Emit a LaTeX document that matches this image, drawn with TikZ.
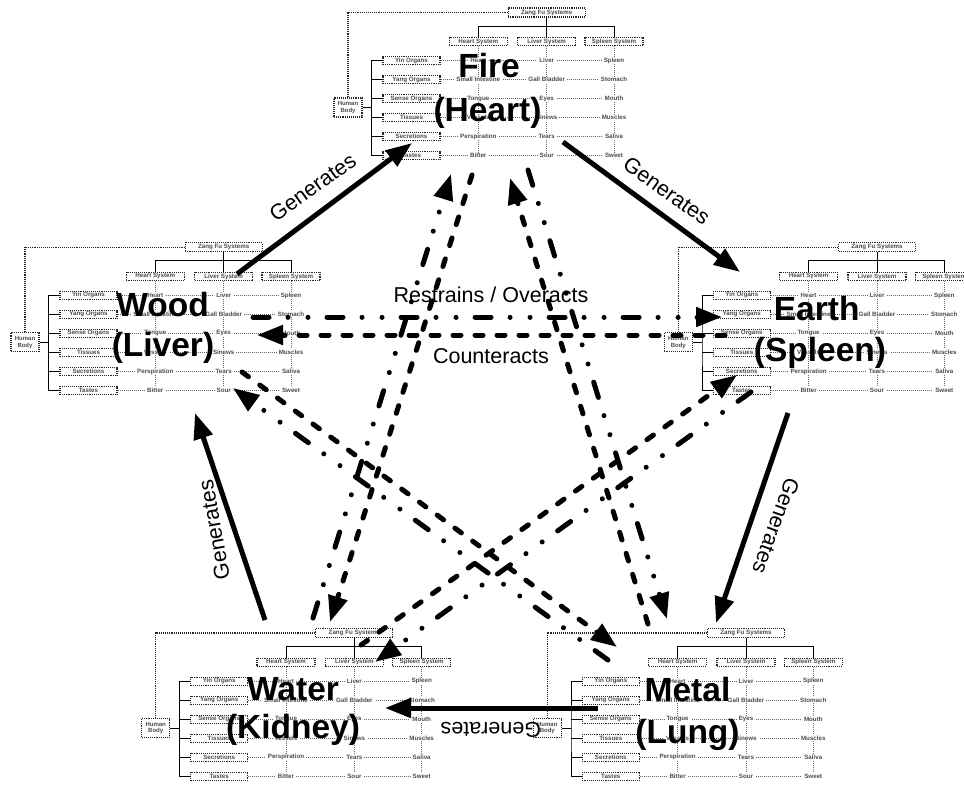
\documentclass[tikz,border=0pt]{standalone}
\usepackage{fontspec}
\setmainfont{Liberation Sans}
\usetikzlibrary{arrows.meta}
\pgfdeclarelayer{bg}
\pgfsetlayers{bg,main}
\newcommand{\smallfnt}{\fontsize{6.2}{6.8}\selectfont\bfseries}
\tikzset{
  zfbox/.style={draw=black!85, line width=1.1pt, densely dotted, fill=white, inner sep=0pt, font=\smallfnt, text=black!70},
  entry/.style={fill=white, inner xsep=2pt, inner ysep=0.8pt, font=\smallfnt, text=black!70},
  tree/.style={draw=black, line width=0.9pt},
  zfconn/.style={draw=black!85, line width=1.1pt, densely dotted},
  rowdot/.style={draw=black!60, line width=0.6pt, dash pattern=on 0.6pt off 1.4pt},
  bigname/.style={font=\fontsize{33.5}{38}\selectfont\bfseries, anchor=base, inner sep=0pt},
  lbl/.style={font=\fontsize{21.5}{24}\selectfont, inner sep=0pt},
  bigtip/.style={-{Triangle[length=26pt,width=19pt]}},
  gen/.style={line width=5pt, bigtip},
  restr/.style={line width=5pt, line cap=round, dash pattern=on 16pt off 19pt on 0.01pt off 20pt on 0.01pt off 19pt, bigtip},
  counter/.style={line width=5pt, line cap=round, dash pattern=on 8pt off 14pt, bigtip}
}
\newcommand{\zfdiagram}[3]{%
\begin{scope}[shift={(#2,#3)}]
  \node[zfbox, minimum width=77pt, minimum height=9pt] (#1-zf) at (212.7,4.5) {Zang Fu Systems};
  \node[zfbox, minimum width=28pt, minimum height=19pt, align=center, font=\fontsize{6}{6.8}\selectfont\bfseries] (#1-hb) at (14,99.5) {Human\\Body};
  \foreach \sx/\slbl [count=\ci] in {144.3/Heart System,212.7/Liver System,280/Spleen System}
    \node[zfbox, minimum width=58pt, minimum height=8pt] (#1-s\ci) at (\sx,33.7) {\slbl};
  \foreach \olbl [count=\ri] in {Yin Organs,Yang Organs,Sense Organs,Tissues,Secretions,Tastes}
    \node[zfbox, minimum width=57pt, minimum height=8.3pt] (#1-o\ri) at (77.5,{52.7+19*(\ri-1)}) {\olbl};
  \foreach \ea/\eb/\ec [count=\ri] in {Heart/Liver/Spleen,Small Intestine/Gall Bladder/Stomach,Tongue/Eyes/Mouth,Vessels/Sinews/Muscles,Perspiration/Tears/Saliva,Bitter/Sour/Sweet}{
    \node[entry] (#1-e\ri-1) at (144.3,{52.7+19*(\ri-1)}) {\ea};
    \node[entry] (#1-e\ri-2) at (212.7,{52.7+19*(\ri-1)}) {\eb};
    \node[entry] (#1-e\ri-3) at (280,{52.7+19*(\ri-1)}) {\ec};
  }
  \coordinate (#1-hbj) at (37.7,99.5);
  \draw[tree] (#1-s2.north) -- (#1-zf.south);
  \draw[tree] (#1-s1.north) -- ++(0,-11) -| (#1-s3.north);
  \draw[tree] (#1-hb.east) -- (#1-hbj);
  \draw[tree] (#1-o1.west) -| (#1-hbj) |- (#1-o6.west);
  \foreach \ri in {2,...,5}
    \draw[tree] (#1-o\ri.west) -- (#1-o\ri.west -| #1-hbj);
  \draw[zfconn] (#1-zf.west) -| (#1-hb.north);
  \begin{pgfonlayer}{bg}
    \foreach \ri in {1,...,6}
      \draw[rowdot] (#1-o\ri.east) -- (#1-e\ri-3.west);
    \foreach \ci in {1,2,3}
      \draw[rowdot] (#1-s\ci.south) -- (#1-e6-\ci.north);
  \end{pgfonlayer}
\end{scope}}
\begin{document}
\begin{tikzpicture}[x=1pt,y=-1pt]
\useasboundingbox (0,0) rectangle (964,785);
\begin{pgfonlayer}{bg}
  \fill[white] (0,0) rectangle (964,785);
\end{pgfonlayer}
\zfdiagram{fire}{334}{8}
\zfdiagram{wood}{11}{242.7}
\zfdiagram{earth}{664.3}{242.7}
\zfdiagram{water}{141.7}{628.5}
\zfdiagram{metal}{533.3}{628.5}
% element names
\node[bigname] (fire-n1) at (489,77) {Fire};
\node[bigname] (fire-n2) at (487.5,121.7) {(Heart)};
\node[bigname] (wood-n1) at (162.5,316.7) {Wood};
\node[bigname] (wood-n2) at (163,356) {(Liver)};
\node[bigname] (earth-n1) at (816.7,320) {Earth};
\node[bigname] (earth-n2) at (820,361.7) {(Spleen)};
\node[bigname] (water-n1) at (293,700) {Water};
\node[bigname] (water-n2) at (293,738) {(Kidney)};
\node[bigname] (metal-n1) at (687.5,701.7) {Metal};
\node[bigname] (metal-n2) at (687.5,743) {(Lung)};
% arrow end points
\coordinate (g1s) at (237,274);   \coordinate (g1e) at (412,143);
\coordinate (g2s) at (563,142);   \coordinate (g2e) at (740,272);
\coordinate (g3s) at (788,413);   \coordinate (g3e) at (716,623);
\coordinate (g4s) at (598,708);   \coordinate (g4e) at (385,708);
\coordinate (g5s) at (265,620);   \coordinate (g5e) at (195,413);
\coordinate (r1s) at (253,317);   \coordinate (r1e) at (722,317);
\coordinate (r2s) at (751,392);   \coordinate (r2e) at (375,662);
\coordinate (r3s) at (313,618);   \coordinate (r3e) at (451,174);
\coordinate (r4s) at (528,170);   \coordinate (r4e) at (667,619);
\coordinate (r5s) at (608,660);   \coordinate (r5e) at (233,388);
\coordinate (c1s) at (725,335);   \coordinate (c1e) at (257,335);
\coordinate (c2s) at (361,645);   \coordinate (c2e) at (737,375);
\coordinate (c3s) at (472,175);   \coordinate (c3e) at (330,622);
\coordinate (c4s) at (648,624);   \coordinate (c4e) at (510,178);
\coordinate (c5s) at (242,372);   \coordinate (c5e) at (617,647);
% generates
\draw[gen] (g1s) -- (g1e);
\draw[gen] (g2s) -- (g2e);
\draw[gen] (g3s) -- (g3e);
\draw[gen] (g4s) -- (g4e);
\draw[gen] (g5s) -- (g5e);
% restrains / overacts
\draw[restr] (r1s) -- (r1e);
\draw[restr] (r2s) -- (r2e);
\draw[restr] (r3s) -- (r3e);
\draw[restr] (r4s) -- (r4e);
\draw[restr] (r5s) -- (r5e);
% counteracts
\draw[counter] (c1s) -- (c1e);
\draw[counter] (c2s) -- (c2e);
\draw[counter] (c3s) -- (c3e);
\draw[counter] (c4s) -- (c4e);
\draw[counter] (c5s) -- (c5e);
% labels
\node[lbl, anchor=base] (lres) at (491,302) {Restrains / Overacts};
\node[lbl, anchor=base] (lcnt) at (491,363) {Counteracts};
\node[lbl, rotate=35.5] (gl1) at (312.7,187.3) {Generates};
\node[lbl, rotate=-35.5] (gl2) at (666.7,190.7) {Generates};
\node[lbl, rotate=-110] (gl3) at (776,526) {Generates};
\node[lbl, rotate=180] (gl4) at (490.8,730) {Generates};
\node[lbl, rotate=100] (gl5) at (214,530) {Generates};
\end{tikzpicture}
\end{document}
